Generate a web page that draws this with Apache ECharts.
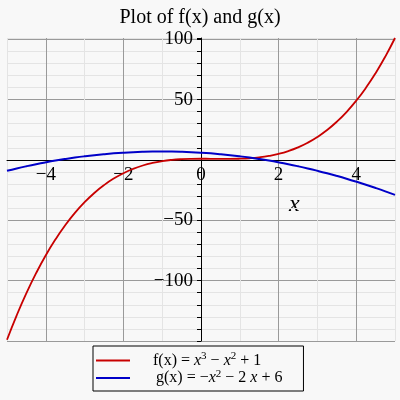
<!DOCTYPE html>
<html>
<head>
<meta charset="utf-8">
<script src="https://cdn.jsdelivr.net/npm/echarts@6/dist/echarts.min.js"></script>
<style>
html,body{margin:0;padding:0;background:#f8f8f8;}
#chart{width:400px;height:400px;}
</style>
</head>
<body>
<div id="chart"></div>
<script>
// x sample positions
var xValues = [-5,-4.75,-4.5,-4.25,-4,-3.75,-3.5,-3.25,-3,-2.75,-2.5,-2.25,-2,-1.75,-1.5,-1.25,-1,-0.75,-0.5,-0.25,0,0.25,0.5,0.75,1,1.25,1.5,1.75,2,2.25,2.5,2.75,3,3.25,3.5,3.75,4,4.25,4.5,4.75,5];
// f(x) values
var fValues = [-149,-128.73,-110.38,-93.83,-79,-65.8,-54.13,-43.89,-35,-27.36,-20.88,-15.45,-11,-7.42,-4.63,-2.52,-1,0.02,0.63,0.92,1,0.95,0.88,0.86,1,1.39,2.13,3.3,5,7.33,10.38,14.23,19,24.77,31.63,39.67,49,59.7,71.88,85.61,101];
// g(x) values
var gValues = [-9,-7.06,-5.25,-3.56,-2,-0.56,0.75,1.94,3,3.94,4.75,5.44,6,6.44,6.75,6.94,7,6.94,6.75,6.44,6,5.44,4.75,3.94,3,1.94,0.75,-0.56,-2,-3.56,-5.25,-7.06,-9,-11.06,-13.25,-15.56,-18,-20.56,-23.25,-26.06,-29];
var xLabels = [-4,-2,0,2,4];
var yLabels = [-100,-50,50,100];
var seriesNames = ['f', 'g'];

function zip(xs, ys){ return xs.map(function(x,i){ return [x, ys[i]]; }); }
function fmtNum(v){ return v < 0 ? '\u2212' + Math.abs(v) : String(v); }

var serif = 'Liberation Serif';
var gridBox = {left: 7, right: 5, top: 38, bottom: 59};
var chart = echarts.init(document.getElementById('chart'));
chart.setOption({
  backgroundColor: '#f8f8f8',
  animation: false,
  title: {
    text: 'Plot of f(x) and g(x)',
    left: 'center', top: 3,
    textStyle: {fontFamily: serif, fontSize: 20, fontWeight: 'normal', color: '#000'}
  },
  grid: {left: gridBox.left, right: gridBox.right, top: gridBox.top, bottom: gridBox.bottom, containLabel: false, outerBoundsMode: 'none'},
  xAxis: {
    type: 'value', min: -5, max: 5, interval: 1, position: 'bottom', offset: 0,
    axisLine: {onZero: false, lineStyle: {color: '#000', width: 1}},
    axisTick: {show: false},
    axisLabel: {
      fontFamily: serif, fontSize: 19, color: '#000', margin: 6,
      hideOverlap: false, showMinLabel: true, showMaxLabel: true,
      formatter: function(v){ return xLabels.indexOf(v) >= 0 ? fmtNum(v) : ''; }
    },
    splitLine: {show: true, lineStyle: {color: ['#e4e4e4', '#9a9a9a'], width: 1}}
  },
  yAxis: {
    type: 'value', min: -150, max: 101, interval: 10, position: 'left', offset: 0,
    axisLine: {onZero: false, lineStyle: {color: '#000', width: 1}},
    axisTick: {show: true, length: 4, lineStyle: {color: '#000'}},
    axisLabel: {
      fontFamily: serif, fontSize: 19, color: '#000', margin: 8, hideOverlap: false,
      formatter: function(v){ return yLabels.indexOf(v) >= 0 ? fmtNum(v) : ''; }
    },
    splitLine: {show: true, lineStyle: {color: ['#9a9a9a', '#e4e4e4', '#e4e4e4', '#e4e4e4', '#e4e4e4'], width: 1}}
  },
  legend: {
    orient: 'vertical', left: 93, top: 346,
    borderColor: '#000', borderWidth: 1, borderRadius: 0,
    padding: [5, 21, 5, 3], itemGap: 0,
    itemWidth: 34, itemHeight: 2, icon: 'rect',
    data: seriesNames,
    formatter: function(name){
      if (name === 'f') return '{sp1| }{n|f(x) = }{i|x}{s|3}{n| \u2212 }{i|x}{s|2}{n| + 1}';
      return '{sp2| }{n|g(x) = \u2212}{i|x}{s|2}{n| \u2212 2 }{i|x}{n| + 6}';
    },
    textStyle: {
      fontFamily: serif, fontSize: 16, color: '#000',
      rich: {
        sp1: {width: 18},
        sp2: {width: 21},
        n: {fontFamily: serif, fontSize: 16, color: '#000', height: 18, verticalAlign: 'bottom'},
        i: {fontFamily: serif, fontSize: 16, fontStyle: 'italic', color: '#000', height: 18, verticalAlign: 'bottom'},
        s: {fontFamily: serif, fontSize: 11, color: '#000', verticalAlign: 'top', height: 10}
      }
    }
  },
  graphic: [{
    type: 'text', left: 289, top: 193,
    style: {text: 'x', font: 'italic 24px "Liberation Serif"', fill: '#000'}
  }],
  series: [{
    name: 'f', type: 'line', data: zip(xValues, fValues),
    showSymbol: false, smooth: true,
    lineStyle: {color: '#c80000', width: 1.8}, itemStyle: {color: '#c80000'}
  }, {
    name: 'g', type: 'line', data: zip(xValues, gValues),
    showSymbol: false, smooth: true,
    lineStyle: {color: '#0000c8', width: 2}, itemStyle: {color: '#0000c8'}
  }]
});
// place axes through the origin, using the library's own scales
var zeroX = chart.convertToPixel({xAxisIndex: 0}, 0);
var zeroY = chart.convertToPixel({yAxisIndex: 0}, 0);
var gridBottomPx = 400 - gridBox.bottom;
chart.setOption({
  xAxis: {offset: -(gridBottomPx - zeroY)},
  yAxis: {offset: -(zeroX - gridBox.left)}
});
</script>
</body>
</html>
